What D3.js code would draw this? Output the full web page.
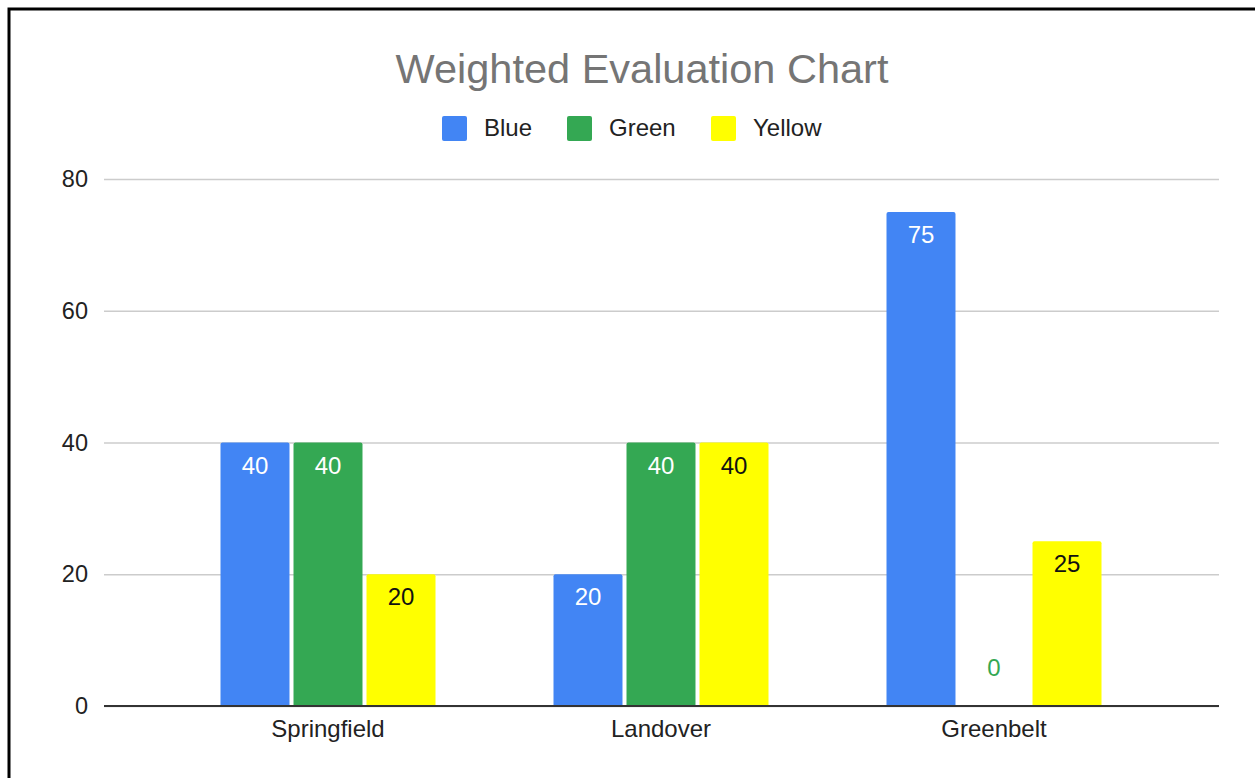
<!DOCTYPE html>
<html>
<head>
<meta charset="utf-8">
<script src="https://cdn.jsdelivr.net/npm/d3@7"></script>
<style>
  body { margin: 0; background: #fff; }
  text { font-family: "Liberation Sans", Arial, sans-serif; }
</style>
</head>
<body>
<script>
// data
const cities = ['Springfield', 'Landover', 'Greenbelt'];
const seriesNames = ['Blue', 'Green', 'Yellow'];
const blueVals = [40, 20, 75];
const greenVals = [40, 40, 0];
const yellowVals = [20, 40, 25];
const yTicks = [0, 20, 40, 60, 80];

const colors = { Blue: '#4285f4', Green: '#34a853', Yellow: '#ffff00' };
const labelColors = { Blue: '#fff', Green: '#fff', Yellow: '#111' };

const W = 1255, H = 778;
const FONT = '"Liberation Sans", Arial, sans-serif';

const svg = d3.select('body')
              .append('svg')
              .attr('width', W)
              .attr('height', H);

// outer frame (right/bottom edges run off the picture)
svg.append('rect')
   .attr('x', 9).attr('y', 9)
   .attr('width', 1400).attr('height', 1000)
   .attr('fill', 'none')
   .attr('stroke', '#000')
   .attr('stroke-width', 3);

const plotLeft = 104, plotRight = 1219;

const y = d3.scaleLinear()
            .domain([0, 80])
            .range([706, 179]);

const x = d3.scaleBand()
            .domain(cities)
            .range([161.5, 1160.5]);

const groupW = 215;
const xs = d3.scaleBand()
             .domain(seriesNames)
             .range([0, groupW])
             .paddingInner(0.055);

// title
svg.append('text')
   .attr('x', 642).attr('y', 83)
   .attr('text-anchor', 'middle')
   .attr('fill', '#757575')
   .attr('font-size', 41.5)
   .text('Weighted Evaluation Chart');

// legend
const legendX = [442, 567, 711];
const lg = svg.append('g');
seriesNames.forEach((s, i) => {
    lg.append('rect')
      .attr('x', legendX[i]).attr('y', 116)
      .attr('width', 25).attr('height', 25)
      .attr('rx', 2)
      .attr('fill', colors[s]);
    lg.append('text')
      .attr('x', legendX[i] + 42).attr('y', 136)
      .attr('fill', '#222')
      .attr('font-size', 24)
      .text(s);
});

// gridlines + y labels
const yAxis = svg.append('g')
   .attr('transform', `translate(${plotLeft},0)`)
   .call(d3.axisLeft(y).tickValues(yTicks).tickSize(-(plotRight - plotLeft)).tickPadding(16));
yAxis.select('.domain').remove();
yAxis.selectAll('.tick line')
     .attr('stroke', '#cccccc')
     .attr('stroke-width', 1.5);
yAxis.selectAll('.tick text')
     .attr('fill', '#222')
     .attr('font-size', 23.5)
     .attr('font-family', FONT);

// bars
const rows = cities.map((c, i) => ({
    city: c,
    vals: [
        { s: 'Blue', v: blueVals[i] },
        { s: 'Green', v: greenVals[i] },
        { s: 'Yellow', v: yellowVals[i] }
    ]
}));

const groups = svg.selectAll('g.city')
    .data(rows)
    .join('g')
    .attr('class', 'city')
    .attr('transform', d => `translate(${x(d.city) + x.bandwidth() / 2 - groupW / 2},0)`);

groups.selectAll('path.bar')
    .data(d => d.vals.filter(e => e.v > 0))
    .join('path')
    .attr('class', 'bar')
    .attr('fill', d => colors[d.s])
    .attr('d', d => {
        const x0 = xs(d.s), w = xs.bandwidth(), t = y(d.v), b = y(0), r = 2;
        return `M${x0},${b}V${t + r}Q${x0},${t} ${x0 + r},${t}H${x0 + w - r}Q${x0 + w},${t} ${x0 + w},${t + r}V${b}Z`;
    });

groups.selectAll('text.lbl')
    .data(d => d.vals)
    .join('text')
    .attr('class', 'lbl')
    .attr('x', d => xs(d.s) + xs.bandwidth() / 2)
    .attr('y', d => d.v > 0 ? y(d.v) + 31 : y(0) - 30)
    .attr('text-anchor', 'middle')
    .attr('font-size', 24)
    .attr('fill', d => d.v > 0 ? labelColors[d.s] : colors[d.s])
    .text(d => d.v);

// baseline
svg.append('line')
   .attr('x1', plotLeft).attr('x2', plotRight)
   .attr('y1', y(0)).attr('y2', y(0))
   .attr('stroke', '#333')
   .attr('stroke-width', 2);

// x labels
const xAxis = svg.append('g')
   .attr('transform', `translate(0,${y(0)})`)
   .call(d3.axisBottom(x).tickSize(0).tickPadding(14));
xAxis.select('.domain').remove();
xAxis.selectAll('.tick text')
     .attr('fill', '#222')
     .attr('font-size', 24)
     .attr('font-family', FONT);
</script>
</body>
</html>
